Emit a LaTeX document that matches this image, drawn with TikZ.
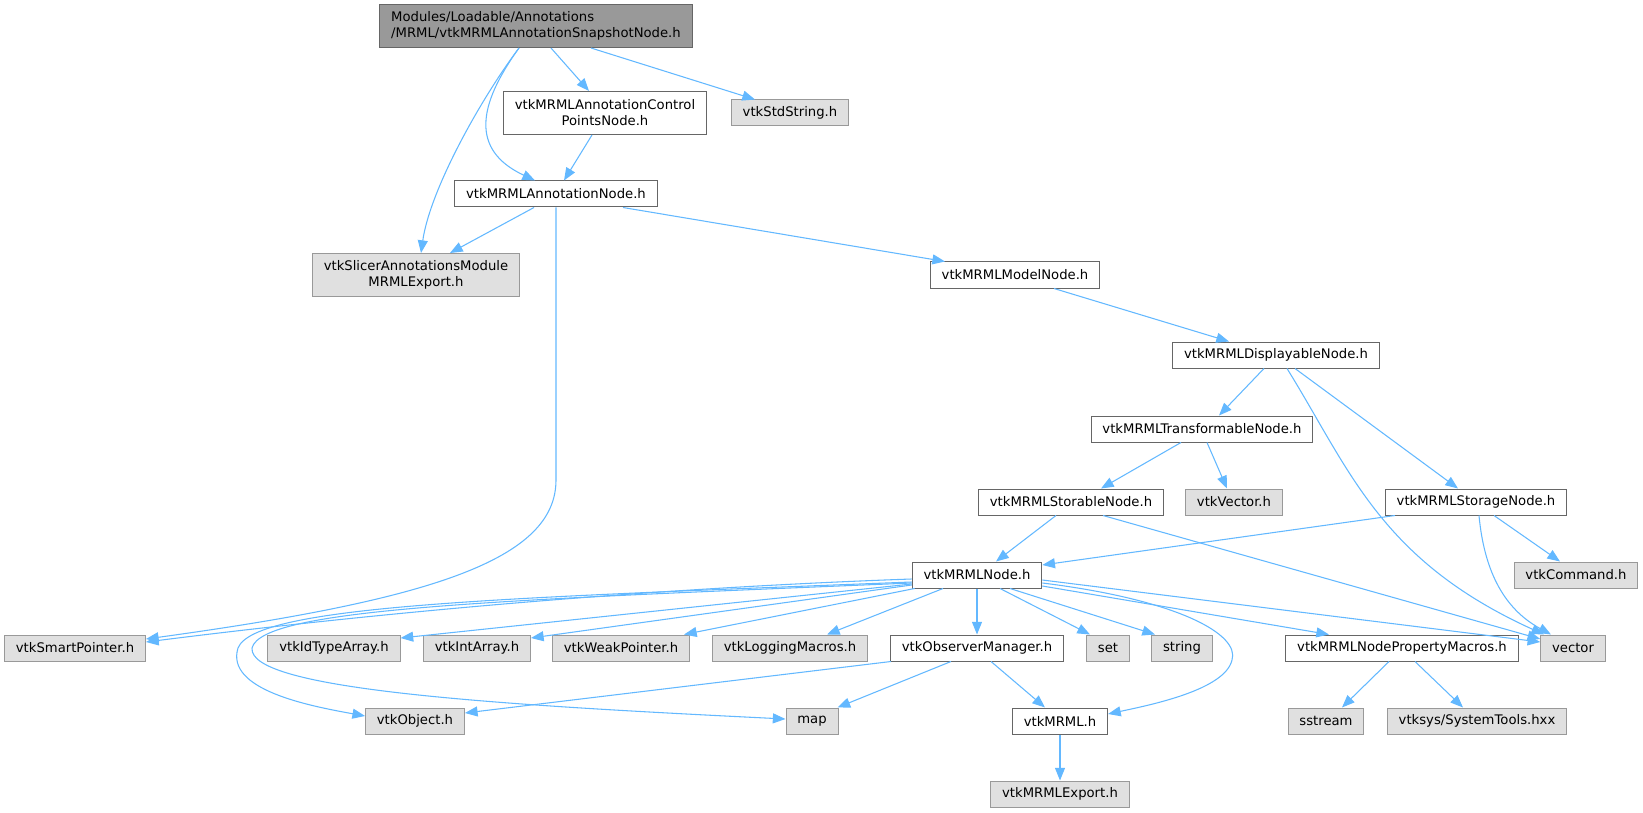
\documentclass[tikz,border=0pt]{standalone}
\usepackage{fontspec}
\setmainfont{DejaVu Sans}
\usetikzlibrary{arrows.meta,calc}
\definecolor{edgec}{HTML}{63B8FF}
\definecolor{docb}{HTML}{666666}
\definecolor{extb}{HTML}{999999}
\definecolor{extf}{HTML}{E0E0E0}
\definecolor{rootf}{HTML}{999999}
\begin{document}
\begin{tikzpicture}[x=0.75pt,y=-0.75pt,
  box/.style={draw, line width=0.75pt, font=\fontsize{9.9}{12}\selectfont, inner xsep=8.5pt, inner ysep=2pt, minimum height=19.5pt, text=black},
  docnode/.style={box, fill=white, draw=docb},
  extnode/.style={box, fill=extf, draw=extb},
  rootnode/.style={box, fill=rootf, draw=docb, align=left, minimum height=32.25pt},
  twoline/.style={align=center, minimum height=32.25pt},
  edge/.style={draw=edgec, line width=0.8pt, -{Triangle[length=9.5pt,width=7.5pt]}}]
\useasboundingbox (0,0) rectangle (1643,813);
% nodes
\node[rootnode] (root) at (536,26) {Modules/Loadable/Annotations\\/MRML/vtkMRMLAnnotationSnapshotNode.h};
\node[docnode,twoline] (ctrl) at (605,113) {vtkMRMLAnnotationControl\\PointsNode.h};
\node[extnode] (stdstr) at (790,113) {vtkStdString.h};
\node[docnode] (annot) at (556,194) {vtkMRMLAnnotationNode.h};
\node[extnode,twoline] (slexp) at (416,275) {vtkSlicerAnnotationsModule\\MRMLExport.h};
\node[docnode] (model) at (1015,275) {vtkMRMLModelNode.h};
\node[docnode] (disp) at (1276,355) {vtkMRMLDisplayableNode.h};
\node[docnode] (trans) at (1202,429) {vtkMRMLTransformableNode.h};
\node[docnode] (storable) at (1071,502) {vtkMRMLStorableNode.h};
\node[extnode] (vtkvec) at (1234,502) {vtkVector.h};
\node[docnode] (storage) at (1476,502) {vtkMRMLStorageNode.h};
\node[docnode] (mnode) at (977,575) {vtkMRMLNode.h};
\node[extnode] (cmd) at (1576,575) {vtkCommand.h};
\node[extnode] (smart) at (75,648) {vtkSmartPointer.h};
\node[extnode] (idt) at (334,648) {vtkIdTypeArray.h};
\node[extnode] (inta) at (477,648) {vtkIntArray.h};
\node[extnode] (weak) at (621,648) {vtkWeakPointer.h};
\node[extnode] (logm) at (790,648) {vtkLoggingMacros.h};
\node[docnode] (obs) at (977,648) {vtkObserverManager.h};
\node[extnode] (nset) at (1108,648) {set};
\node[extnode] (str) at (1182,648) {string};
\node[docnode] (prop) at (1402,648) {vtkMRMLNodePropertyMacros.h};
\node[extnode] (vec) at (1573,648) {vector};
\node[extnode] (obj) at (415,721) {vtkObject.h};
\node[extnode] (map) at (812,721) {map};
\node[docnode] (mrml) at (1060,721) {vtkMRML.h};
\node[extnode] (sst) at (1326,721) {sstream};
\node[extnode] (sys) at (1477,721) {vtksys/SystemTools.hxx};
\node[extnode] (mexp) at (1060,794) {vtkMRMLExport.h};
% edges
\draw[edge] ($(root.south)+(-17,0)$) .. controls (480,100) and (430,190) .. ($(slexp.north)+(5,0)$);
\draw[edge] ($(root.south)+(-17,0)$) .. controls (478,105) and (470,150) .. ($(annot.north)+(-21,0)$);
\draw[edge] ($(root.south)+(15,0)$) -- ($(ctrl.north)+(-16,0)$);
\draw[edge] ($(root.south)+(55,0)$) -- ($(stdstr.north)+(-35,0)$);
\draw[edge] ($(ctrl.south)+(-13,0)$) -- ($(annot.north)+(8,0)$);
\draw[edge] ($(annot.south)+(-22,0)$) -- ($(slexp.north)+(34,0)$);
\draw[edge] (annot.south) -- (556,480) .. controls (556,560) and (430,600) .. ($(smart.east)+(0,-9)$);
\draw[edge] ($(annot.south)+(67,0)$) -- ($(model.north)+(-70,0)$);
\draw[edge] ($(model.south)+(39,0)$) -- ($(disp.north)+(-47,0)$);
\draw[edge] ($(disp.south)+(-12,0)$) -- ($(trans.north)+(17,0)$);
\draw[edge] ($(disp.south)+(11,0)$) .. controls (1350,470) and (1380,560) .. ($(vec.north)+(-29,0)$);
\draw[edge] ($(disp.south)+(19,0)$) -- ($(storage.north)+(-18,0)$);
\draw[edge] ($(trans.south)+(-21,0)$) -- ($(storable.north)+(30,0)$);
\draw[edge] ($(trans.south)+(5,0)$) -- ($(vtkvec.north)+(-7,0)$);
\draw[edge] ($(storable.south)+(-15,0)$) -- ($(mnode.north)+(19,0)$);
\draw[edge] ($(storable.south)+(32,0)$) -- ($(vec.west)+(0,-9)$);
\draw[edge] ($(storage.south)+(-81,0)$) -- ($(mnode.east)+(0,-10)$);
\draw[edge] ($(storage.south)+(3,0)$) .. controls (1485,580) and (1510,612) .. ($(vec.north)+(-22,0)$);
\draw[edge] ($(storage.south)+(18,0)$) -- ($(cmd.north)+(-16,0)$);
\draw[edge] ($(mnode.west)+(0,4)$) .. controls (600,590) and (320,620) .. ($(smart.east)+(0,-6)$);
\draw[edge] ($(mnode.west)+(0,7)$) .. controls (500,598) and (255,605) .. (238,648) .. controls (225,690) and (310,706) .. ($(obj.west)+(0,-5)$);
\draw[edge] ($(mnode.west)+(0,8)$) .. controls (500,600) and (262,608) .. (252,648) .. controls (248,690) and (500,705) .. ($(map.west)+(0,-2)$);
\draw[edge] ($(mnode.west)+(0,9)$) -- ($(idt.east)+(0,-10)$);
\draw[edge] ($(mnode.west)+(0,10)$) -- ($(inta.east)+(0,-10)$);
\draw[edge] ($(mnode.south west)+(3,0)$) -- ($(weak.north east)+(-6,0)$);
\draw[edge] ($(mnode.south)+(-34,0)$) -- ($(logm.north)+(37,0)$);
\draw[edge] (mnode.south) -- (obs.north);
\draw[edge] ($(mnode.south)+(23,0)$) -- ($(nset.north)+(-18,0)$);
\draw[edge] ($(mnode.south)+(33,0)$) -- ($(str.north)+(-27,0)$);
\draw[edge] ($(mnode.east)+(0,8)$) .. controls (1180,600) and (1240,635) .. (1232,660) .. controls (1225,690) and (1150,705) .. ($(mrml.east)+(0,-7)$);
\draw[edge] ($(mnode.east)+(0,11)$) -- ($(prop.north)+(-73,0)$);
\draw[edge] ($(mnode.east)+(0,5)$) -- ($(vec.west)+(0,-6)$);
\draw[edge] ($(obs.south west)+(1,0)$) -- ($(obj.east)+(0,-8)$);
\draw[edge] ($(obs.south)+(-26,0)$) -- ($(map.north east)+(-1,0)$);
\draw[edge] ($(obs.south)+(14,0)$) -- ($(mrml.north)+(-15,0)$);
\draw[edge] (mrml.south) -- (mexp.north);
\draw[edge] ($(prop.south)+(-13,0)$) -- ($(sst.north)+(16,0)$);
\draw[edge] ($(prop.south)+(13,0)$) -- ($(sys.north)+(-14,0)$);
\end{tikzpicture}
\end{document}
